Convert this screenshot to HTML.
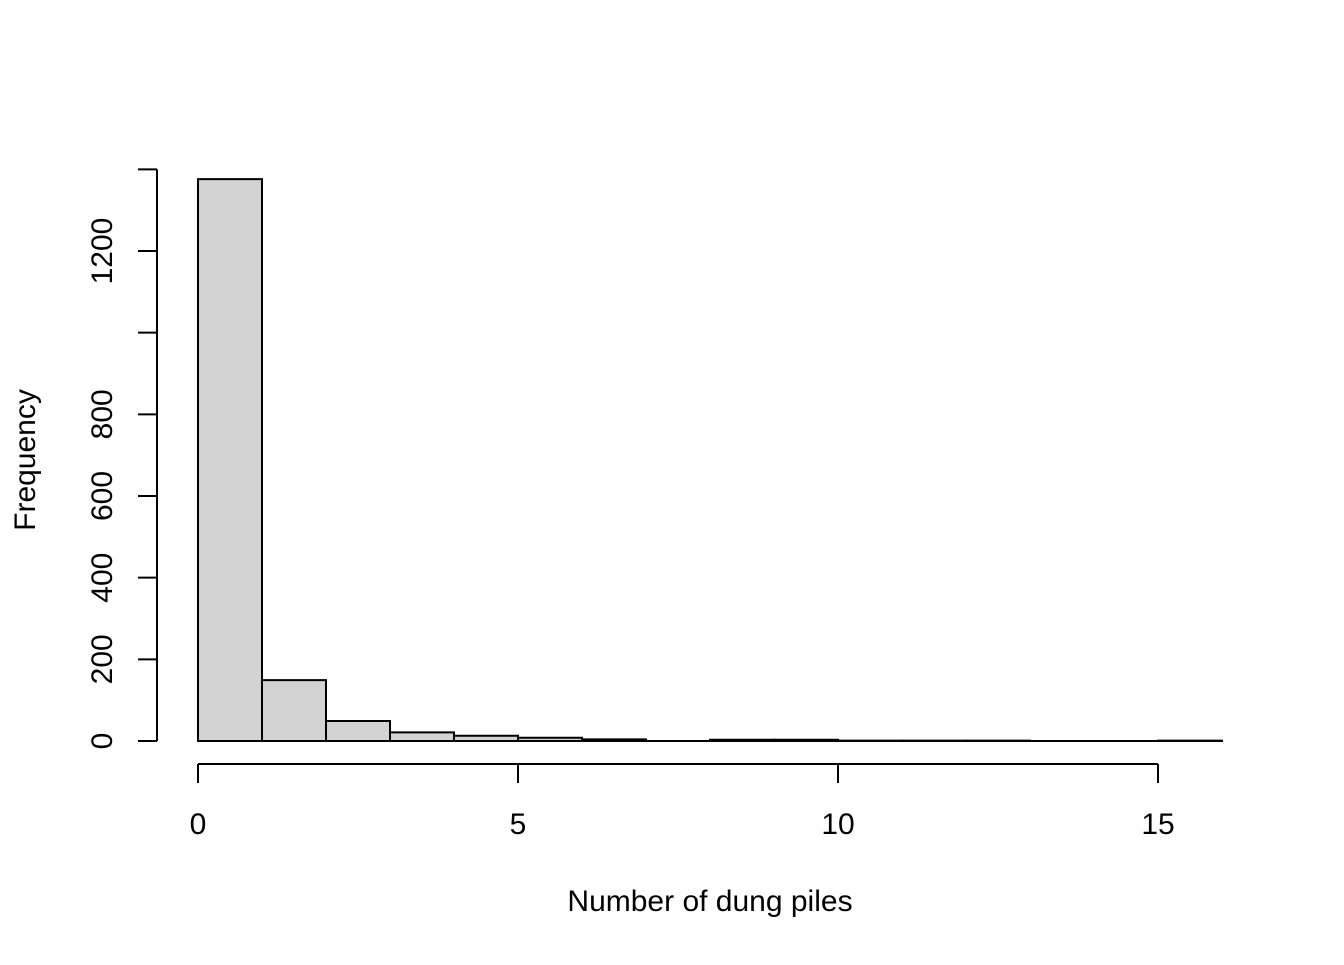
<!DOCTYPE html>
<html><head><meta charset="utf-8"><style>
body{margin:0;background:#fff;}
svg text{font-family:"Liberation Sans",Arial,sans-serif;fill:#000;}
</style></head><body>
<svg width="1344" height="960" xmlns="http://www.w3.org/2000/svg">
<g id="bars"></g>
<g id="axes"></g>
<text x="710" y="911" font-size="30" text-anchor="middle">Number of dung piles</text>
<text x="0" y="0" font-size="30" text-anchor="middle" transform="translate(35,460) rotate(-90)">Frequency</text>
</svg>
<script>
const breaks=[0,1,2,3,4,5,6,7,8,9,10,11,12,13,14,15,16];
const counts=[1376,149,49,21,13,8,4,0,3,3,1,1,1,0,0,1];
const xTicks=[0,5,10,15];
const yTicks=[0,200,400,600,800,1000,1200,1400];
const yLabels=["0","200","400","600","800","","1200",""];
const NS="http://www.w3.org/2000/svg";
const sx=v=>198+v*64;
const sy=v=>741-v*(490/1200);
function mk(t,a,p){const e=document.createElementNS(NS,t);for(const k in a)e.setAttribute(k,a[k]);p.appendChild(e);return e;}
const bg=document.getElementById('bars');
counts.forEach((c,i)=>{
 const x0=sx(breaks[i]),x1=sx(breaks[i+1]),y0=sy(0),y1=sy(c);
 const r=mk('path',{d:`M${x0},${y0}L${x0},${y1}L${x1},${y1}L${x1},${y0}Z`,fill:'#d3d3d3',stroke:'#000','stroke-width':2},bg);
 
 
});
const ax=document.getElementById('axes');
mk('line',{x1:sx(0),x2:sx(15),y1:764,y2:764,stroke:'#000','stroke-width':2},ax);
xTicks.forEach(t=>{
 mk('line',{x1:sx(t),x2:sx(t),y1:764,y2:783,stroke:'#000','stroke-width':2},ax);
 const tx=mk('text',{x:sx(t),y:834,'font-size':30,'text-anchor':'middle'},ax);tx.textContent=t;
 
 
});
mk('line',{x1:157,x2:157,y1:sy(0),y2:sy(1400),stroke:'#000','stroke-width':2},ax);
yTicks.forEach((t,i)=>{
 mk('line',{x1:138,x2:157,y1:sy(t),y2:sy(t),stroke:'#000','stroke-width':2},ax);
 if(yLabels[i]){const tx=mk('text',{x:0,y:0,'font-size':30,'text-anchor':'middle',transform:`translate(112,${sy(t)}) rotate(-90)`},ax);tx.textContent=yLabels[i];
 
 }
});
</script>
</body></html>
